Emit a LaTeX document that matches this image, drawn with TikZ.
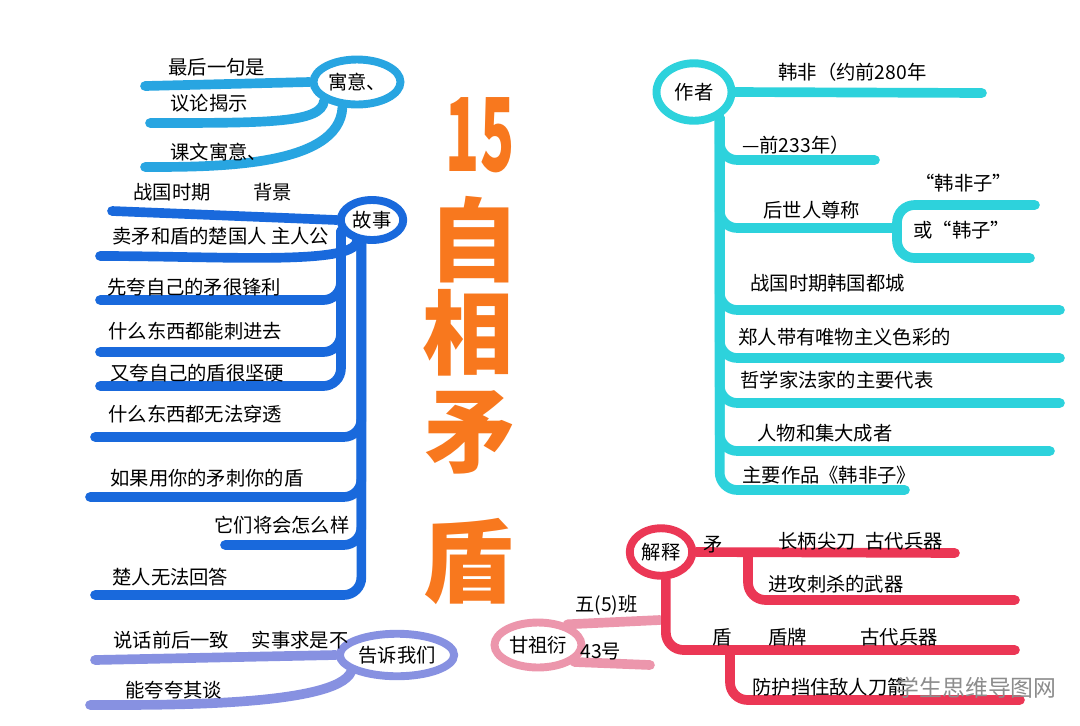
\documentclass[tikz,border=0pt]{standalone}
\usepackage{fontspec}
\setmainfont{Noto Sans CJK SC}
\usepackage{tikz}
\usetikzlibrary{positioning,shapes.geometric,calc}
\definecolor{yuyiblue}{RGB}{40,165,225}
\definecolor{gushiblue}{RGB}{25,105,220}
\definecolor{gaosulav}{RGB}{135,145,225}
\definecolor{titleorange}{RGB}{248,120,30}
\definecolor{namepink}{RGB}{236,150,172}
\definecolor{zuozhecyan}{RGB}{45,210,220}
\definecolor{jieshired}{RGB}{235,55,85}
\definecolor{wmgray}{RGB}{140,140,140}
\newcommand{\leaffont}{\fontsize{11}{13}\selectfont}
\newcommand{\titlefont}{\fontsize{52}{54}\selectfont\bfseries}
\newcommand{\numfont}{\fontsize{58}{60}\selectfont\bfseries}
\newcommand{\wmfont}{\fontsize{13}{15}\selectfont}

\begin{document}
\begin{tikzpicture}[
            x=0.02cm, y=-0.02cm,
            font=\leaffont,
            hub/.style={
                    ellipse, draw, line width=4.5pt, fill=white,
                    inner sep=1pt, align=center
                },
            leaf/.style={anchor=west, inner sep=0pt},
            branch/.style={line width=5.5pt, line cap=round, rounded corners=10pt},
            title/.style={text=titleorange, font=\titlefont, inner sep=0pt}
            ]
            \useasboundingbox (0,0) rectangle (1080,725);
            \fill[white] (0,0) rectangle (1080,725);

            % ===== Title (middle, vertical) =====
            \node[title, font=\numfont] (t0) at (480,135) {\scalebox{0.55}[1]{15}};
            \node[title] (t1) at (474,240) {自};
            \node[title] (t2) at (468,333) {相};
            \node[title] (t3) at (470,432) {矛};
            \node[title] (t4) at (468,562) {盾};

            % ===== 寓意 =====
            \node[hub, draw=yuyiblue, minimum width=1.4cm, minimum height=0.9cm] (yuyi) at (357,82) {寓意、};
            \coordinate (yy1) at (145,86);
            \coordinate (yy2) at (150,123);
            \coordinate (yy3) at (145,167);
            \draw[branch, yuyiblue] (yuyi.west) -- (yy1);
            \draw[branch, yuyiblue] (yuyi.-150) .. controls +(-3,22) and +(120,0) .. (yy2);
            \draw[branch, yuyiblue] (yuyi.-120) .. controls +(-3,60) and +(70,0) .. (yy3);
            \node[leaf] (yyt1) at (168,67) {最后一句是};
            \node[leaf] (yyt2) at (170,103) {议论揭示};
            \node[leaf] (yyt3) at (170,152) {课文寓意、};

            % ===== 故事 =====
            \node[hub, draw=gushiblue, minimum width=1.25cm, minimum height=0.8cm] (gushi) at (372,220) {故事};
            \coordinate (gs1) at (112,211);
            \coordinate (gs2) at (100,256);
            \coordinate (gs3) at (100,300);
            \coordinate (gs4) at (100,352);
            \coordinate (gs5) at (100,386);
            \coordinate (gs6) at (95,437);
            \coordinate (gs7) at (90,497);
            \coordinate (gs8) at (225,545);
            \coordinate (gs9) at (95,595);
            \draw[branch, gushiblue] (gushi.west) -- (gs1);
            \draw[branch, gushiblue] (gushi.-125) .. controls +(-4,24) and +(120,0) .. (gs2);
            \foreach \g in {gs3,gs4,gs5}
                \draw[branch, gushiblue] (gushi.-160) |- (\g);
            \foreach \g in {gs6,gs7,gs8,gs9}
                \draw[branch, gushiblue] (gushi.-115) |- (\g);
            \node[leaf] (gst1) at (133,192) {战国时期\hspace{0.85cm}背景};
            \node[leaf] (gst2) at (112,236) {卖矛和盾的楚国人\ 主人公};
            \node[leaf] (gst3) at (107,287) {先夸自己的矛很锋利};
            \node[leaf] (gst4) at (108,331) {什么东西都能刺进去};
            \node[leaf] (gst5) at (110,373) {又夸自己的盾很坚硬};
            \node[leaf] (gst6) at (108,414) {什么东西都无法穿透};
            \node[leaf] (gst7) at (110,478) {如果用你的矛刺你的盾};
            \node[leaf, anchor=east] (gst8) at (350,525) {它们将会怎么样};
            \node[leaf] (gst9) at (112,577) {楚人无法回答};

            % ===== 告诉我们 =====
            \node[hub, draw=gaosulav, minimum width=1.45cm, minimum height=0.85cm] (gaosu) at (397,655) {告诉我们};
            \coordinate (gw1) at (95,660);
            \coordinate (gw2) at (90,705);
            \draw[branch, gaosulav] (gaosu.west) -- (gw1);
            \draw[branch, gaosulav] (gaosu.-160) .. controls +(-15,35) and +(70,0) .. (gw2);
            \node[leaf] (gwt1) at (113,640) {说话前后一致\hspace{0.45cm}实事求是不};
            \node[leaf] (gwt2) at (125,690) {能夸夸其谈};

            % ===== 姓名 =====
            \node[hub, draw=namepink, minimum width=1.2cm, minimum height=0.9cm] (xingming) at (538,645) {甘祖衍};
            \coordinate (xm1) at (660,620);
            \coordinate (xm2) at (650,665);
            \draw[branch, namepink] (xingming.35) -- (xm1);
            \draw[branch, namepink] (xingming.-25) -- (xm2);
            \node[leaf] (xmt1) at (575,605) {五(5)班};
            \node[leaf] (xmt2) at (580,652) {43号};

            % ===== 作者 =====
            \node[hub, draw=zuozhecyan, minimum width=1.5cm, minimum height=1.15cm] (zuozhe) at (694,92) {作者};
            \coordinate (zz1) at (982,93);
            \coordinate (zz2) at (875,160);
            \coordinate (zz3) at (897,228);
            \coordinate (zz3a) at (1035,205);
            \coordinate (zz3b) at (1030,258);
            \coordinate (zz4) at (1060,310);
            \coordinate (zz5) at (1060,358);
            \coordinate (zz6) at (1060,403);
            \coordinate (zz7) at (1050,451);
            \coordinate (zz8) at (905,490);
            \draw[branch, zuozhecyan] (zuozhe.east) -- (zz1);
            \foreach \z in {zz2,zz3,zz4,zz5,zz6,zz7,zz8}
                \draw[branch, zuozhecyan] (zuozhe.-45) |- (\z);
            \draw[branch, zuozhecyan] (zz3) |- (zz3a);
            \draw[branch, zuozhecyan] (zz3) |- (zz3b);
            \node[leaf] (zzt1) at (778,72) {韩非（约前280年};
            \node[leaf] (zzt2) at (742,145) {—前233年）};
            \node[leaf] (zzt3) at (763,210) {后世人尊称};
            \node[leaf] (zzt3a) at (915,183) {“韩非子”};
            \node[leaf] (zzt3b) at (913,230) {或“韩子”};
            \node[leaf] (zzt4) at (750,283) {战国时期韩国都城};
            \node[leaf] (zzt5) at (738,337) {郑人带有唯物主义色彩的};
            \node[leaf] (zzt6) at (740,380) {哲学家法家的主要代表};
            \node[leaf] (zzt7) at (757,433) {人物和集大成者};
            \node[leaf] (zzt8) at (742,475) {主要作品《韩非子》};

            % ===== 解释 =====
            \node[hub, draw=jieshired, minimum width=1.25cm, minimum height=0.95cm] (jieshi) at (661,552) {解释};
            \coordinate (js1) at (955,553);
            \coordinate (jsa) at (748,554);
            \coordinate (js2) at (1015,600);
            \coordinate (js3) at (1015,650);
            \coordinate (jsb) at (730,650);
            \coordinate (js4) at (1020,700);
            \draw[branch, jieshired] (jieshi.east) -- (js1);
            \draw[branch, jieshired] (jsa) |- (js2);
            \draw[branch, jieshired] (jieshi.-80) |- (js3);
            \draw[branch, jieshired] (jsb) |- (js4);
            \node[leaf] (jst1) at (703,545) {矛};
            \node[leaf] (jst1a) at (778,541) {长柄尖刀\hspace{0.2cm}古代兵器};
            \node[leaf] (jst2) at (768,584) {进攻刺杀的武器};
            \node[leaf] (jst3) at (712,637) {盾};
            \node[leaf] (jst3a) at (768,637) {盾牌};
            \node[leaf] (jst3b) at (860,637) {古代兵器};
            \node[leaf] (jst4) at (752,687) {防护挡住敌人刀箭};

            % ===== watermark =====
            \node[anchor=east, text=wmgray, font=\wmfont, inner sep=0pt] (wm) at (1057,688) {学生思维导图网};

        \end{tikzpicture}
\end{document}
